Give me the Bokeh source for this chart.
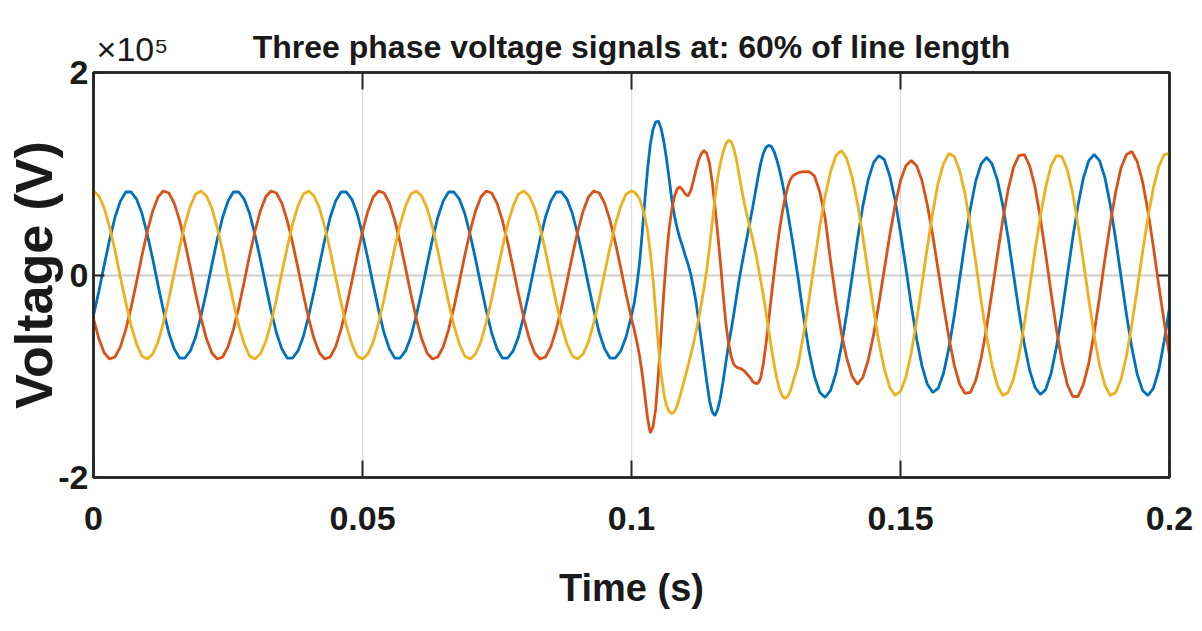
from bokeh.plotting import figure
from bokeh.models import FixedTicker, LinearAxis, Range1d
from bokeh.embed import file_html
from bokeh.resources import INLINE

# ---------------- data (time in ms, voltages in units of 1e5 V) ----------------
time_pre_ms = list(range(0, 100))                       # 0 .. 99 ms
time_fault_ms = [100 + 0.5 * i for i in range(61)]      # 100 .. 130 ms
time_post_ms = list(range(131, 201))                    # 131 .. 200 ms

phase_a_pre = [
    -0.40, -0.16, 0.10, 0.35, 0.57, 0.73, 0.82, 0.82, 0.75, 0.61, 0.40, 0.16, -0.10, -0.35, -0.57, -0.73, -0.82, -0.82, -0.75, -0.61,
    -0.40, -0.16, 0.10, 0.35, 0.57, 0.73, 0.82, 0.82, 0.75, 0.61, 0.40, 0.16, -0.10, -0.35, -0.57, -0.73, -0.82, -0.82, -0.75, -0.61,
    -0.40, -0.16, 0.10, 0.35, 0.57, 0.73, 0.82, 0.82, 0.75, 0.61, 0.40, 0.16, -0.10, -0.35, -0.57, -0.73, -0.82, -0.82, -0.75, -0.61,
    -0.40, -0.16, 0.10, 0.35, 0.57, 0.73, 0.82, 0.82, 0.75, 0.61, 0.40, 0.16, -0.10, -0.35, -0.57, -0.73, -0.82, -0.82, -0.75, -0.61,
    -0.40, -0.16, 0.10, 0.35, 0.57, 0.73, 0.82, 0.82, 0.75, 0.61, 0.40, 0.16, -0.10, -0.35, -0.57, -0.73, -0.82, -0.82, -0.75, -0.61,
]
phase_b_pre = [
    -0.43, -0.63, -0.77, -0.83, -0.81, -0.71, -0.54, -0.32, -0.07, 0.19, 0.43, 0.63, 0.77, 0.83, 0.81, 0.71, 0.54, 0.32, 0.07, -0.19,
    -0.43, -0.63, -0.77, -0.83, -0.81, -0.71, -0.54, -0.32, -0.07, 0.19, 0.43, 0.63, 0.77, 0.83, 0.81, 0.71, 0.54, 0.32, 0.07, -0.19,
    -0.43, -0.63, -0.77, -0.83, -0.81, -0.71, -0.54, -0.32, -0.07, 0.19, 0.43, 0.63, 0.77, 0.83, 0.81, 0.71, 0.54, 0.32, 0.07, -0.19,
    -0.43, -0.63, -0.77, -0.83, -0.81, -0.71, -0.54, -0.32, -0.07, 0.19, 0.43, 0.63, 0.77, 0.83, 0.81, 0.71, 0.54, 0.32, 0.07, -0.19,
    -0.43, -0.63, -0.77, -0.83, -0.81, -0.71, -0.54, -0.32, -0.07, 0.19, 0.43, 0.63, 0.77, 0.83, 0.81, 0.71, 0.54, 0.32, 0.07, -0.19,
]
phase_c_pre = [
    0.83, 0.78, 0.66, 0.47, 0.24, -0.02, -0.27, -0.50, -0.68, -0.80, -0.83, -0.78, -0.66, -0.47, -0.24, 0.02, 0.27, 0.50, 0.68, 0.80,
    0.83, 0.78, 0.66, 0.47, 0.24, -0.02, -0.27, -0.50, -0.68, -0.80, -0.83, -0.78, -0.66, -0.47, -0.24, 0.02, 0.27, 0.50, 0.68, 0.80,
    0.83, 0.78, 0.66, 0.47, 0.24, -0.02, -0.27, -0.50, -0.68, -0.80, -0.83, -0.78, -0.66, -0.47, -0.24, 0.02, 0.27, 0.50, 0.68, 0.80,
    0.83, 0.78, 0.66, 0.47, 0.24, -0.02, -0.27, -0.50, -0.68, -0.80, -0.83, -0.78, -0.66, -0.47, -0.24, 0.02, 0.27, 0.50, 0.68, 0.80,
    0.83, 0.78, 0.66, 0.47, 0.24, -0.02, -0.27, -0.50, -0.68, -0.80, -0.83, -0.78, -0.66, -0.47, -0.24, 0.02, 0.27, 0.50, 0.68, 0.80,
]

phase_a_fault = [
    -0.40, -0.28, -0.10, 0.12, 0.42, 0.75, 1.05, 1.29, 1.44, 1.51,
    1.52, 1.45, 1.32, 1.15, 0.95, 0.74, 0.58, 0.46, 0.36, 0.28,
    0.19, 0.11, 0.01, -0.12, -0.27, -0.46, -0.66, -0.86, -1.06, -1.24,
    -1.35, -1.39, -1.33, -1.22, -1.06, -0.88, -0.70, -0.55, -0.39, -0.22,
    -0.05, 0.10, 0.24, 0.38, 0.52, 0.66, 0.81, 0.96, 1.10, 1.20,
    1.26, 1.28, 1.27, 1.22, 1.14, 1.04, 0.92, 0.78, 0.63, 0.47,
    0.31,
]
phase_b_fault = [
    -0.43, -0.54, -0.66, -0.80, -0.98, -1.20, -1.42, -1.56, -1.50, -1.32,
    -0.98, -0.58, -0.18, 0.18, 0.46, 0.65, 0.78, 0.85, 0.87, 0.84,
    0.80, 0.78, 0.83, 0.93, 1.04, 1.14, 1.20, 1.23, 1.20, 1.10,
    0.92, 0.68, 0.42, 0.14, -0.17, -0.46, -0.66, -0.80, -0.88, -0.91,
    -0.92, -0.93, -0.95, -0.98, -1.01, -1.05, -1.07, -1.07, -1.02, -0.88,
    -0.68, -0.45, -0.21, 0.02, 0.24, 0.44, 0.61, 0.75, 0.86, 0.94,
    0.98,
]
phase_c_fault = [
    0.83, 0.82, 0.79, 0.75, 0.67, 0.57, 0.43, 0.22, -0.04, -0.37,
    -0.70, -0.98, -1.17, -1.29, -1.35, -1.37, -1.35, -1.29, -1.20, -1.10,
    -1.00, -0.90, -0.79, -0.68, -0.56, -0.43, -0.28, -0.12, 0.06, 0.27,
    0.52, 0.75, 0.95, 1.10, 1.21, 1.29, 1.33, 1.32, 1.25, 1.14,
    0.99, 0.84, 0.70, 0.58, 0.47, 0.36, 0.24, 0.10, -0.05, -0.20,
    -0.37, -0.55, -0.72, -0.88, -1.02, -1.13, -1.19, -1.22, -1.20, -1.15,
    -1.06,
]

phase_a_post = [
    -0.04, -0.42, -0.75, -1.00, -1.16, -1.21, -1.14, -0.97, -0.71, -0.38,
    -0.02, 0.35, 0.68, 0.94, 1.11, 1.18, 1.14, 0.98, 0.74, 0.42,
    0.07, -0.30, -0.63, -0.90, -1.08, -1.16, -1.12, -0.97, -0.72, -0.40,
    -0.04, 0.33, 0.66, 0.93, 1.10, 1.16, 1.10, 0.94, 0.69, 0.37,
    0.01, -0.35, -0.68, -0.94, -1.11, -1.18, -1.13, -0.97, -0.71, -0.38,
    -0.01, 0.36, 0.69, 0.96, 1.13, 1.19, 1.13, 0.96, 0.69, 0.35,
    -0.02, -0.39, -0.72, -0.98, -1.14, -1.19, -1.12, -0.94, -0.66, -0.32,
]
phase_b_post = [
    1.01, 1.02, 1.02, 0.98, 0.82, 0.56, 0.14, -0.24, -0.57, -0.82,
    -1.00, -1.08, -1.01, -0.84, -0.59, -0.28, 0.06, 0.39, 0.69, 0.93,
    1.08, 1.13, 1.08, 0.93, 0.69, 0.39, 0.05, -0.30, -0.62, -0.89,
    -1.08, -1.17, -1.16, -1.04, -0.82, -0.52, -0.17, 0.19, 0.54, 0.84,
    1.06, 1.18, 1.19, 1.08, 0.87, 0.56, 0.20, -0.18, -0.54, -0.85,
    -1.08, -1.20, -1.20, -1.08, -0.87, -0.57, -0.22, 0.16, 0.51, 0.82,
    1.06, 1.19, 1.22, 1.12, 0.92, 0.63, 0.28, -0.10, -0.46, -0.79,
]
phase_c_post = [
    -0.88, -0.58, -0.24, 0.12, 0.48, 0.78, 1.02, 1.18, 1.23, 1.15,
    0.97, 0.71, 0.38, 0.02, -0.34, -0.67, -0.93, -1.11, -1.19, -1.15,
    -1.01, -0.77, -0.45, -0.09, 0.28, 0.62, 0.91, 1.10, 1.20, 1.17,
    1.03, 0.80, 0.48, 0.12, -0.26, -0.60, -0.89, -1.09, -1.19, -1.16,
    -1.03, -0.80, -0.49, -0.13, 0.24, 0.58, 0.87, 1.08, 1.18, 1.17,
    1.04, 0.81, 0.49, 0.13, -0.24, -0.60, -0.89, -1.09, -1.19, -1.16,
    -1.03, -0.80, -0.49, -0.14, 0.23, 0.57, 0.86, 1.07, 1.19, 1.20,
]

series_colors = ["#0072BD", "#D95319", "#EDB120"]
x_ticks = [0, 0.05, 0.1, 0.15, 0.2]
x_tick_labels = ["0", "0.05", "0.1", "0.15", "0.2"]
y_ticks = [-2, 0, 2]
y_tick_labels = ["-2", "0", "2"]
title_text = "Three phase voltage signals at: 60% of line length"
exponent_text = "×10⁵"
exponent_anchor = 0.00725   # time position over which the exponent marker is centred

# ---------------- assemble ----------------
time_s = [t / 1000.0 for t in time_pre_ms + time_fault_ms + time_post_ms]
phases = [
    phase_a_pre + phase_a_fault + phase_a_post,
    phase_b_pre + phase_b_fault + phase_b_post,
    phase_c_pre + phase_c_fault + phase_c_post,
]

FONT = "Liberation Sans"
TXT = "#1a1a1a"
AX = "#262626"

p = figure(width=1200, height=624, output_backend="svg", toolbar_location=None,
           x_range=Range1d(0, 0.2), y_range=Range1d(-2, 2),
           min_border_left=93, min_border_right=31, min_border_top=72, min_border_bottom=147)
p.title.visible = False
p.background_fill_color = "white"
p.border_fill_color = "white"
p.outline_line_color = AX
p.outline_line_width = 2.5

for v, c in zip(phases, series_colors):
    p.line(time_s, v, line_color=c, line_width=2.8)

xa = p.xaxis[0]
ya = p.yaxis[0]
xa.ticker = FixedTicker(ticks=x_ticks)
ya.ticker = FixedTicker(ticks=y_ticks)
xa.major_label_overrides = {t: s for t, s in zip(x_ticks, x_tick_labels)}
ya.major_label_overrides = {t: s for t, s in zip(y_ticks, y_tick_labels)}
for ax in (xa, ya):
    ax.major_label_text_font = FONT
    ax.major_label_text_font_style = "bold"
    ax.major_label_text_font_size = "34px"
    ax.major_label_text_color = TXT
    ax.major_tick_out = 0
    ax.major_tick_line_color = AX
    ax.major_tick_line_width = 2
    ax.minor_tick_line_color = None
    ax.axis_line_color = AX
    ax.axis_line_width = 2.5
    ax.axis_label_text_color = TXT
    ax.axis_label_text_font = FONT
    ax.axis_label_text_font_style = "bold"
xa.major_tick_in = 17
ya.major_tick_in = 11
xa.major_label_standoff = 29
ya.major_label_standoff = 5
xa.axis_label = "Time (s)"
xa.axis_label_text_font_size = "38px"
xa.axis_label_standoff = 34
ya.axis_label = "Voltage (V)"
ya.axis_label_text_font_size = "52px"
ya.axis_label_standoff = -8

# mirrored ticks on top and right (box on)
top = LinearAxis(ticker=FixedTicker(ticks=x_ticks), major_tick_in=17, major_tick_out=0,
                 major_tick_line_color=AX, major_tick_line_width=2, minor_tick_line_color=None,
                 major_label_overrides={t: "" for t in x_ticks}, major_label_text_font_size="1px",
                 major_label_standoff=0, axis_line_color=AX, axis_line_width=2.5)
right = LinearAxis(ticker=FixedTicker(ticks=y_ticks), major_tick_in=11, major_tick_out=0,
                   major_tick_line_color=AX, major_tick_line_width=2, minor_tick_line_color=None,
                   major_label_overrides={t: "" for t in y_ticks}, major_label_text_font_size="1px",
                   major_label_standoff=0, axis_line_color=AX, axis_line_width=2.5)
p.add_layout(top, "above")
p.add_layout(right, "right")

# header line: exponent marker (tick label) and title (axis label) on the same row
head = LinearAxis(ticker=FixedTicker(ticks=[exponent_anchor]),
                  major_label_overrides={exponent_anchor: exponent_text},
                  major_label_text_font=FONT, major_label_text_font_size="34px",
                  major_label_text_color=TXT, major_label_standoff=5,
                  major_tick_line_color=None, major_tick_in=0, major_tick_out=0,
                  minor_tick_line_color=None, axis_line_color=None,
                  axis_label=title_text, axis_label_text_font=FONT, axis_label_text_font_size="32px",
                  axis_label_text_font_style="bold", axis_label_text_color=TXT,
                  axis_label_standoff=-38)
p.add_layout(head, "above")

p.xgrid.ticker = FixedTicker(ticks=x_ticks)
p.ygrid.ticker = FixedTicker(ticks=y_ticks)
p.xgrid.grid_line_color = "#dcdcdc"
p.xgrid.grid_line_width = 1.3
p.ygrid.grid_line_color = "#cdcdcd"
p.ygrid.grid_line_width = 2.2

open("out.html", "w").write(file_html(p, INLINE))
